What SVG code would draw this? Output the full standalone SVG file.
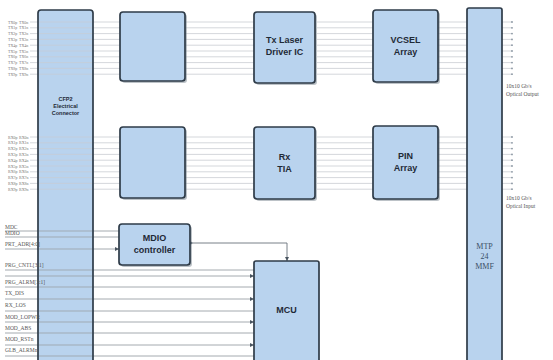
<svg xmlns="http://www.w3.org/2000/svg" width="553" height="360" viewBox="0 0 553 360">
<defs>
<style>
.box{fill:#b9d3ee;stroke:#2e3b48;stroke-width:1.7}
.sh{fill:#7a8590;opacity:0.5}
.lane{stroke:#c9cdd2;stroke-width:0.8;fill:none}
.sig{stroke:#9aa0a6;stroke-width:0.9;fill:none}
.lbl{font-family:"Liberation Sans",Arial,sans-serif;font-weight:bold;fill:#1f2a36;text-anchor:middle}
.tiny{font-family:"Liberation Serif","Times New Roman",serif;font-size:5.5px;fill:#555}
.pin{font-family:"Liberation Serif","Times New Roman",serif;font-size:4px;fill:#777}
</style>
<marker id="ah" viewBox="0 0 6 6" refX="6" refY="3" markerWidth="5" markerHeight="5" orient="auto">
<path d="M0,0 L6,3 L0,6 z" fill="#4a5560"/>
</marker>
</defs>
<rect width="553" height="360" fill="#ffffff"/>

<g id="connectors">
<g class="lane">
<path d="M30,22H120M185,22H254M317,22H373M438,22H512"/>
<path d="M30,27.8H120M185,27.8H254M317,27.8H373M438,27.8H512"/>
<path d="M30,33.6H120M185,33.6H254M317,33.6H373M438,33.6H512"/>
<path d="M30,39.4H120M185,39.4H254M317,39.4H373M438,39.4H512"/>
<path d="M30,45.2H120M185,45.2H254M317,45.2H373M438,45.2H512"/>
<path d="M30,51H120M185,51H254M317,51H373M438,51H512"/>
<path d="M30,56.8H120M185,56.8H254M317,56.8H373M438,56.8H512"/>
<path d="M30,62.6H120M185,62.6H254M317,62.6H373M438,62.6H512"/>
<path d="M30,68.4H120M185,68.4H254M317,68.4H373M438,68.4H512"/>
<path d="M30,74.2H120M185,74.2H254M317,74.2H373M438,74.2H512"/>
</g>
<g class="lane">
<path d="M30,137H120M185,137H254M317,137H373M438,137H512"/>
<path d="M30,142.8H120M185,142.8H254M317,142.8H373M438,142.8H512"/>
<path d="M30,148.6H120M185,148.6H254M317,148.6H373M438,148.6H512"/>
<path d="M30,154.4H120M185,154.4H254M317,154.4H373M438,154.4H512"/>
<path d="M30,160.2H120M185,160.2H254M317,160.2H373M438,160.2H512"/>
<path d="M30,166H120M185,166H254M317,166H373M438,166H512"/>
<path d="M30,171.8H120M185,171.8H254M317,171.8H373M438,171.8H512"/>
<path d="M30,177.6H120M185,177.6H254M317,177.6H373M438,177.6H512"/>
<path d="M30,183.4H120M185,183.4H254M317,183.4H373M438,183.4H512"/>
<path d="M30,189.2H120M185,189.2H254M317,189.2H373M438,189.2H512"/>
</g>
<g fill="#8a96a2">
<circle cx="512" cy="22" r="0.9"/><circle cx="512" cy="27.8" r="0.9"/><circle cx="512" cy="33.6" r="0.9"/><circle cx="512" cy="39.4" r="0.9"/><circle cx="512" cy="45.2" r="0.9"/><circle cx="512" cy="51" r="0.9"/><circle cx="512" cy="56.8" r="0.9"/><circle cx="512" cy="62.6" r="0.9"/><circle cx="512" cy="68.4" r="0.9"/><circle cx="512" cy="74.2" r="0.9"/>
<circle cx="512" cy="137" r="0.9"/><circle cx="512" cy="142.8" r="0.9"/><circle cx="512" cy="148.6" r="0.9"/><circle cx="512" cy="154.4" r="0.9"/><circle cx="512" cy="160.2" r="0.9"/><circle cx="512" cy="166" r="0.9"/><circle cx="512" cy="171.8" r="0.9"/><circle cx="512" cy="177.6" r="0.9"/><circle cx="512" cy="183.4" r="0.9"/><circle cx="512" cy="189.2" r="0.9"/>
</g>
<g class="sig">
<path d="M5,231H119"/>
<path d="M5,237H119"/>
<path d="M5,249H119" marker-end="url(#ah)"/>
<path d="M190,243H287V261" marker-end="url(#ah)" stroke="#6a737c"/>
<path d="M5,270H254"/>
<path d="M5,276H254" marker-end="url(#ah)"/>
<path d="M5,287H254"/>
<path d="M5,299H254" marker-end="url(#ah)"/>
<path d="M5,311H254"/>
<path d="M5,322H254" marker-end="url(#ah)"/>
<path d="M5,333H254"/>
<path d="M5,345H254" marker-end="url(#ah)"/>
<path d="M5,356H254"/>
</g>
<circle cx="191" cy="243" r="1.3" fill="#4a5560"/>
</g>

<g id="tx-labels" class="pin">
<text x="8" y="23.5">TX0p</text><text x="19" y="23.5">TX0n</text>
<text x="8" y="29.3">TX1p</text><text x="19" y="29.3">TX1n</text>
<text x="8" y="35.1">TX2p</text><text x="19" y="35.1">TX2n</text>
<text x="8" y="40.9">TX3p</text><text x="19" y="40.9">TX3n</text>
<text x="8" y="46.7">TX4p</text><text x="19" y="46.7">TX4n</text>
<text x="8" y="52.5">TX5p</text><text x="19" y="52.5">TX5n</text>
<text x="8" y="58.3">TX6p</text><text x="19" y="58.3">TX6n</text>
<text x="8" y="64.1">TX7p</text><text x="19" y="64.1">TX7n</text>
<text x="8" y="69.9">TX8p</text><text x="19" y="69.9">TX8n</text>
<text x="8" y="75.7">TX9p</text><text x="19" y="75.7">TX9n</text>
</g>
<g id="rx-labels" class="pin">
<text x="8" y="138.5">RX0p</text><text x="19" y="138.5">RX0n</text>
<text x="8" y="144.3">RX1p</text><text x="19" y="144.3">RX1n</text>
<text x="8" y="150.1">RX2p</text><text x="19" y="150.1">RX2n</text>
<text x="8" y="155.9">RX3p</text><text x="19" y="155.9">RX3n</text>
<text x="8" y="161.7">RX4p</text><text x="19" y="161.7">RX4n</text>
<text x="8" y="167.5">RX5p</text><text x="19" y="167.5">RX5n</text>
<text x="8" y="173.3">RX6p</text><text x="19" y="173.3">RX6n</text>
<text x="8" y="179.1">RX7p</text><text x="19" y="179.1">RX7n</text>
<text x="8" y="184.9">RX8p</text><text x="19" y="184.9">RX8n</text>
<text x="8" y="190.7">RX9p</text><text x="19" y="190.7">RX9n</text>
</g>

<g id="connector">
<rect class="box" x="38" y="10" width="55" height="360" rx="3"/>
<text class="lbl" font-size="5.5"><tspan x="65.5" y="101">CFP2</tspan><tspan x="65.5" y="108">Electrical</tspan><tspan x="65.5" y="115">Connector</tspan></text>
</g>
<g class="lane" opacity="0.8">
<path d="M39,22H92M39,27.8H92M39,33.6H92M39,39.4H92M39,45.2H92M39,51H92M39,56.8H92M39,62.6H92M39,68.4H92M39,74.2H92"/>
<path d="M39,137H92M39,142.8H92M39,148.6H92M39,154.4H92M39,160.2H92M39,166H92M39,171.8H92M39,177.6H92M39,183.4H92M39,189.2H92"/>
</g>
<g class="sig" opacity="0.9">
<path d="M39,231H92M39,237H92M39,249H92M39,270H92M39,276H92M39,287H92M39,299H92M39,311H92M39,322H92M39,333H92M39,345H92M39,356H92"/>
</g>

<g id="signal-labels" class="tiny">
<text x="5" y="229">MDC</text>
<text x="5" y="235">MDIO</text>
<text x="5" y="246">PRT_ADR[4:0]</text>
<text x="5" y="267">PRG_CNTL[3:1]</text>
<text x="5" y="284">PRG_ALRM[3:1]</text>
<text x="5" y="295">TX_DIS</text>
<text x="5" y="307">RX_LOS</text>
<text x="5" y="319">MOD_LOPWR</text>
<text x="5" y="330">MOD_ABS</text>
<text x="5" y="341">MOD_RSTn</text>
<text x="5" y="352">GLB_ALRMn</text>
</g>

<g id="cdr-tx">
<rect class="sh" x="122" y="14" width="65" height="69" rx="3"/>
<rect class="box" x="120" y="12" width="65" height="69" rx="3"/>
</g>
<g id="tx-driver">
<rect class="sh" x="256" y="14" width="61" height="71" rx="3"/>
<rect class="box" x="254" y="12" width="61" height="71" rx="3"/>
<text class="lbl" font-size="9"><tspan x="284.5" y="43">Tx Laser</tspan><tspan x="284.5" y="55">Driver IC</tspan></text>
</g>
<g id="vcsel">
<rect class="sh" x="375" y="12" width="65" height="72" rx="3"/>
<rect class="box" x="373" y="10" width="65" height="72" rx="3"/>
<text class="lbl" font-size="9"><tspan x="405.5" y="43">VCSEL</tspan><tspan x="405.5" y="55">Array</tspan></text>
</g>

<g id="cdr-rx">
<rect class="sh" x="122" y="129" width="65" height="71" rx="3"/>
<rect class="box" x="120" y="127" width="65" height="71" rx="3"/>
</g>
<g id="rx-tia">
<rect class="sh" x="256" y="129" width="61" height="72" rx="3"/>
<rect class="box" x="254" y="127" width="61" height="72" rx="3"/>
<text class="lbl" font-size="9"><tspan x="284.5" y="160">Rx</tspan><tspan x="284.5" y="172">TIA</tspan></text>
</g>
<g id="pin">
<rect class="sh" x="375" y="128" width="65" height="73" rx="3"/>
<rect class="box" x="373" y="126" width="65" height="73" rx="3"/>
<text class="lbl" font-size="9"><tspan x="405.5" y="159">PIN</tspan><tspan x="405.5" y="171">Array</tspan></text>
</g>

<g id="mtp">
<rect class="box" x="467" y="8" width="35" height="362" rx="2"/>
<text font-family="Liberation Serif,serif" font-size="8" fill="#3a4f66" text-anchor="middle"><tspan x="484.5" y="249">MTP</tspan><tspan x="484.5" y="259">24</tspan><tspan x="484.5" y="269">MMF</tspan></text>
</g>

<g id="mdio">
<rect class="sh" x="121" y="226" width="71" height="41" rx="3"/>
<rect class="box" x="119" y="224" width="71" height="41" rx="3"/>
<text class="lbl" font-size="9"><tspan x="154.5" y="241">MDIO</tspan><tspan x="154.5" y="253">controller</tspan></text>
</g>

<g id="mcu">
<rect class="box" x="254" y="261" width="65" height="110" rx="2"/>
<text class="lbl" font-size="9" x="286.5" y="313">MCU</text>
</g>

<g id="optical-labels" class="tiny" font-size="5">
<text x="506" y="88">10x10 Gb/s</text>
<text x="506" y="96">Optical Output</text>
<text x="506" y="200">10x10 Gb/s</text>
<text x="506" y="208">Optical Input</text>
</g>
</svg>
